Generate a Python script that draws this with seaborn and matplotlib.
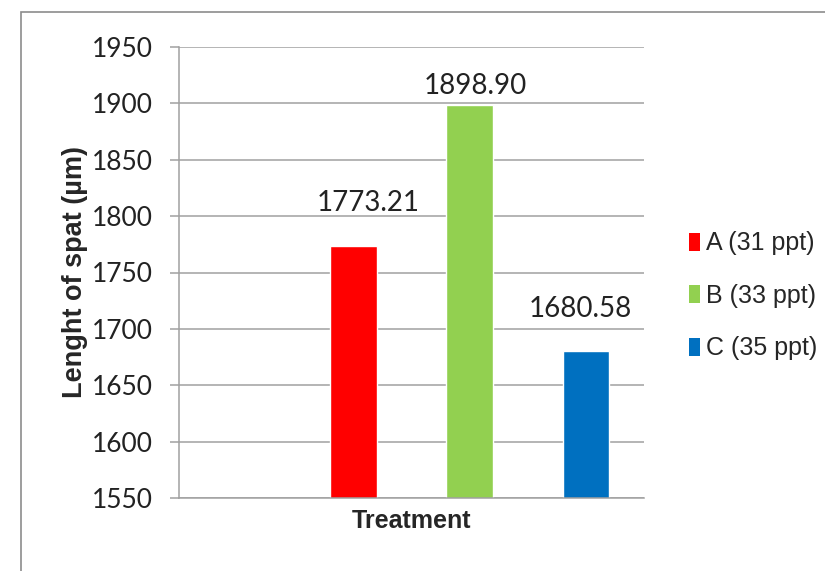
import matplotlib
matplotlib.use("Agg")
import matplotlib.pyplot as plt
import seaborn as sns
import pandas as pd
from matplotlib.patches import Patch, Rectangle

# ---- data ----
series = ["A (31 ppt)", "B (33 ppt)", "C (35 ppt)"]
values = [1773.21, 1898.90, 1680.58]
colors = ["#FF0000", "#92D050", "#0070C0"]
yticks = [1550, 1600, 1650, 1700, 1750, 1800, 1850, 1900, 1950]
ylabel = "Lenght of spat (µm)"
xlabel = "Treatment"

df = pd.DataFrame({"series": series, "value": values})
order = [" "] + series  # empty first slot, as in the original layout

sns.set_theme(style="white")
plt.rcParams["font.family"] = ["Lato", "DejaVu Sans"]

fig = plt.figure(figsize=(8.25, 5.71), dpi=100)
ax = fig.add_axes([179/825, 1-498/571, (644-179)/825, (498-47)/571])

sns.barplot(data=df, x="series", y="value", hue="series", order=order,
            hue_order=series, palette=colors, width=0.4, dodge=False,
            legend=False, ax=ax, saturation=1)

ax.set_ylim(1550, 1950)
ax.set_xlim(-0.5, 3.5)
ax.set_yticks(yticks)
ax.set_yticklabels([str(t) for t in yticks], fontsize=19, color="#222222")
ax.set_xticks([])

gray = "#A0A0A0"
ax.grid(axis="y", color=gray, linewidth=1.1)
ax.set_axisbelow(True)
for s in ["top", "right"]:
    ax.spines[s].set_visible(False)
for s in ["left", "bottom"]:
    ax.spines[s].set_color(gray)
    ax.spines[s].set_linewidth(1.1)
ax.tick_params(axis="y", direction="out", length=6.5, width=1.1, color=gray,
               pad=12, left=True)

ax.set_ylabel(ylabel, fontsize=19.5, fontweight="bold",
              family=["Liberation Sans", "DejaVu Sans"])
ax.yaxis.set_label_coords(-0.196, 0.5)
ax.set_xlabel(xlabel, fontsize=18, fontweight="bold",
              family=["Liberation Sans", "DejaVu Sans"])
ax.xaxis.set_label_coords(0.5, -0.024)

# value labels (manually offset, as in the original)
offsets = [(11, 22), (4, 4), (-4, 21)]
for i, (s, v) in enumerate(zip(series, values)):
    xpos = order.index(s)
    ax.annotate(f"{v:.2f}", xy=(xpos, v), xytext=offsets[i],
                textcoords="offset points", ha="center", va="bottom",
                fontsize=20, color="#222222")

handles = [Patch(facecolor=c, edgecolor="none", label=s)
           for s, c in zip(series, colors)]
fig.legend(handles=handles, loc="center left", bbox_to_anchor=(689/825, 1-296/571),
           frameon=False, handlelength=0.45, handleheight=0.75,
           handletextpad=0.25, labelspacing=1.14, borderpad=0, borderaxespad=0,
           prop={"family": ["Liberation Sans", "DejaVu Sans"], "size": 18})

# outer chart border (cut off at right and bottom as in the original)
fig.patches.append(Rectangle((21/825, -0.1), 1.2, 1.1 - 12/571,
                             transform=fig.transFigure, fill=False,
                             edgecolor="#8C8C8C", linewidth=1.2))

fig.savefig("out.png", dpi=100, facecolor="white")
